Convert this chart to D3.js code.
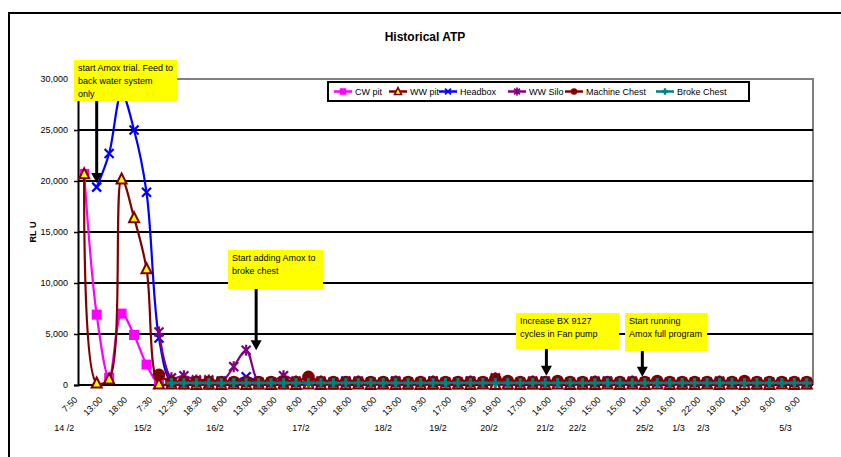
<!DOCTYPE html>
<html>
<head>
<meta charset="utf-8">
<script src="https://cdn.jsdelivr.net/npm/d3@7/dist/d3.min.js"></script>
<style>
  html, body { margin: 0; padding: 0; background: #fff; }
  svg { display: block; font-family: "Liberation Sans", Arial, sans-serif; }
</style>
</head>
<body>
<svg id="chart" width="841" height="457"></svg>
<script>
// Sample times: one reading per category, every second one carries a time label
const timeLabels = ["7:50", "13:00", "18:00", "7:30", "12:30", "18:30", "8:00", "13:00", "18:00", "8:00",
  "13:00", "18:00", "8:00", "13:00", "9:30", "17:00", "9:30", "19:00", "17:00", "14:00",
  "15:00", "15:00", "15:00", "11:00", "16:00", "22:00", "19:00", "14:00", "9:00", "9:00"];
const pointCount = 59;

// Day labels and the category (in reading units) they sit under
const dayLabels = ["14 /2", "15/2", "16/2", "17/2", "18/2", "19/2", "20/2", "21/2", "22/2", "25/2", "1/3", "2/3", "5/3"];
const dayAt = [-1.6, 4.7, 10.5, 17.4, 24, 28.4, 32.5, 37, 39.6, 45, 47.7, 49.7, 56.3];

// ATP readings (RLU) per sampling point
const cwPit = [20700, 6900, 700, 7000, 4900, 2000, 100, 100, 50, 100, 0, 50, 100, 0, 50, 100, 50, 0, 100, 50,
  0, 50, 100, 0, 50, 100, 0, 50, 0, 100, 50, 300, 100, 50, 0, 100, 50, 0, 100, 50,
  0, 50, 100, 0, 50, 0, 100, 50, 0, 50, 100, 0, 50, 100, 0, 50, 100, 0, 50];
const wwPit = [20700, 200, 600, 20200, 16400, 11400, 100, 100, 100, 50, 100, 50, 100, 50, 100, 50, 100, 50, 100, 50,
  100, 50, 100, 50, 100, 50, 100, 50, 100, 50, 100, 50, 100, 50, 100, 50, 100, 50, 100, 50,
  100, 50, 100, 50, 100, 50, 100, 50, 100, 50, 100, 50, 100, 50, 100, 50, 100, 50, 100];
const headbox = [null, 19400, 22700, 28600, 25000, 18900, 4600, 300, 300, 400, 300, 400, 300, 800, 300, 300, 400, 300, 300, 300,
  300, 400, 300, 300, 300, 400, 300, 300, 400, 300, 300, 400, 300, 500, 300, 300, 300, 400, 300, 300,
  300, 300, 400, 300, 300, 300, 300, 300, 300, 300, 300, 300, 300, 300, 300, 300, 300, 300, 300];
const wwSilo = [null, null, null, null, null, null, 5200, 700, 900, 500, 500, 300, 1800, 3400, 300, 300, 900, 400, 300, 400,
  300, 300, 400, 300, 300, 400, 300, 300, 400, 300, 300, 400, 300, 700, 300, 300, 400, 300, 300, 300,
  300, 400, 300, 300, 400, 300, 300, 300, 300, 300, 300, 400, 300, 300, 300, 300, 300, 300, 300];
const machineChest = [null, null, null, null, null, null, 1000, 300, 300, 300, 300, 300, 300, 300, 300, 300, 300, 300, 800, 300,
  300, 300, 300, 300, 300, 300, 300, 300, 300, 300, 300, 300, 300, 600, 400, 300, 300, 300, 400, 300,
  300, 300, 300, 300, 300, 300, 400, 300, 300, 300, 300, 300, 300, 400, 300, 300, 300, 300, 300];
const brokeChest = [null, null, null, null, null, null, null, 200, 200, 200, 200, 200, 200, 200, 200, 200, 200, 200, 200, 200,
  200, 200, 200, 200, 200, 200, 200, 200, 200, 200, 200, 200, 200, 200, 200, 200, 200, 200, 200, 200,
  200, 200, 200, 200, 200, 200, 200, 200, 200, 200, 200, 200, 200, 200, 200, 200, 200, 200, 200];

const seriesNames = ["CW pit", "WW pit", "Headbox", "WW Silo", "Machine Chest", "Broke Chest"];
const yTicks = [0, 5000, 10000, 15000, 20000, 25000, 30000];

const series = [
  { name: seriesNames[0], values: cwPit, color: "#ff00ff", marker: "square", fill: "#ff00ff" },
  { name: seriesNames[1], values: wwPit, color: "#800000", marker: "triangle", fill: "#ffff00" },
  { name: seriesNames[2], values: headbox, color: "#0000ff", marker: "x", fill: "none" },
  { name: seriesNames[3], values: wwSilo, color: "#800080", marker: "star", fill: "none" },
  { name: seriesNames[4], values: machineChest, color: "#800000", marker: "circle", fill: "#800000" },
  { name: seriesNames[5], values: brokeChest, color: "#008080", marker: "plus", fill: "none" }
];

// Callout notes: arrow tip at a category / value, box offsets in pixels
const notes = [
  { lines: ["start Amox trial. Feed to", "back water system", "only"], at: 1, value: 19800, box: [74, 60, 103, 41] },
  { lines: ["Start adding Amox to", "broke chest"], at: 13.8, value: 3400, box: [228, 250, 95, 39] },
  { lines: ["Increase BX 9127", "cycles in Fan pump"], at: 37.1, value: 900, box: [516, 313, 103, 36] },
  { lines: ["Start running", "Amox full program"], at: 44.8, value: 800, box: [625, 313, 82, 38] }
];

const svg = d3.select("#chart");
const plot = { left: 78, right: 813, top: 79, bottom: 385 };

const x = d3.scalePoint().domain(d3.range(pointCount)).range([plot.left, plot.right]).padding(0.5);
const y = d3.scaleLinear().domain([0, 30000]).range([plot.bottom, plot.top]);
const step = x.step();

// Outer chart frame (left and top edges fall inside the window)
svg.append("path")
  .attr("d", `M9,457 V13 H841`)
  .attr("fill", "none").attr("stroke", "#000").attr("stroke-width", 2);

// Title
svg.append("text").attr("x", 425).attr("y", 41).attr("text-anchor", "middle")
  .attr("font-size", 12).attr("font-weight", "bold").text("Historical ATP");

// Plot area border (grey top and right)
svg.append("path")
  .attr("d", `M${plot.left},${plot.top} H${plot.right} V${plot.bottom}`)
  .attr("fill", "none").attr("stroke", "#808080").attr("stroke-width", 2);

// Horizontal gridlines
svg.append("g").selectAll("line").data(yTicks.filter(t => t > 0 && t < 30000)).join("line")
  .attr("x1", plot.left).attr("x2", plot.right)
  .attr("y1", d => y(d)).attr("y2", d => y(d))
  .attr("stroke", "#000").attr("stroke-width", 2);

// Y axis
const yAxis = d3.axisLeft(y).tickValues(yTicks).tickSize(4).tickPadding(6)
  .tickFormat(d3.format(","));
const gy = svg.append("g").attr("transform", `translate(${plot.left},0)`).call(yAxis);
gy.select(".domain").attr("stroke", "#000").attr("stroke-width", 2);
gy.selectAll(".tick line").attr("stroke", "#000").attr("stroke-width", 1.5);
gy.selectAll(".tick text").attr("font-size", 9).attr("fill", "#000")
  .attr("font-family", "'Liberation Sans', Arial, sans-serif");

svg.append("text").attr("transform", `translate(36,232) rotate(-90)`)
  .attr("text-anchor", "middle").attr("font-size", 9).attr("font-weight", "bold").text("RL U");

// X axis line
svg.append("line").attr("x1", plot.left).attr("x2", plot.right)
  .attr("y1", plot.bottom).attr("y2", plot.bottom)
  .attr("stroke", "#000").attr("stroke-width", 2);

// Rotated time labels on every second reading
const xAxis = d3.axisBottom(x).tickValues(d3.range(0, pointCount, 2)).tickSize(0)
  .tickFormat(i => timeLabels[i / 2]);
const gx = svg.append("g").attr("transform", `translate(0,${plot.bottom})`).call(xAxis);
gx.select(".domain").remove();
gx.selectAll(".tick text")
  .attr("font-size", 9).attr("fill", "#000")
  .attr("font-family", "'Liberation Sans', Arial, sans-serif")
  .attr("text-anchor", "end")
  .attr("dy", "0.35em")
  .attr("transform", "translate(-11,11) rotate(-45)");

// Day labels
svg.append("g").selectAll("text").data(dayLabels).join("text")
  .attr("x", (d, i) => x(0) + dayAt[i] * step)
  .attr("y", 431)
  .attr("text-anchor", "middle").attr("font-size", 9).text(d => d);

// Marker shapes
function markerPath(type, s) {
  const h = s / 2;
  switch (type) {
    case "square": return `M${-h},${-h}H${h}V${h}H${-h}Z`;
    case "triangle": return `M0,${-h - 1}L${h + 0.5},${h}L${-h - 0.5},${h}Z`;
    case "x": return `M${-h},${-h}L${h},${h}M${h},${-h}L${-h},${h}`;
    case "star": return `M${-h},${-h}L${h},${h}M${h},${-h}L${-h},${h}M0,${-h - 1}V${h + 1}`;
    case "circle": return d3.symbol(d3.symbolCircle, Math.PI * h * h)();
    case "plus": return `M${-h},0H${h}M0,${-h}V${h}`;
  }
}
const markerSize = { square: 10, triangle: 9, x: 9, star: 9, circle: 12.5, plus: 10 };
const markerStroke = { square: 0, triangle: 2, x: 2.2, star: 2.2, circle: 0, plus: 3 };

const line = d3.line()
  .defined(d => d.v !== null)
  .x(d => x(d.i)).y(d => y(d.v))
  .curve(d3.curveCatmullRom.alpha(0.5));

const gSeries = svg.append("g");
series.forEach(s => {
  const pts = s.values.map((v, i) => ({ i, v }));
  const g = gSeries.append("g");
  g.append("path").datum(pts).attr("d", line)
    .attr("fill", "none").attr("stroke", s.color).attr("stroke-width", 2.2);
  g.selectAll("path.m").data(pts.filter(p => p.v !== null)).join("path")
    .attr("class", "m")
    .attr("transform", p => `translate(${x(p.i)},${y(p.v)})`)
    .attr("d", markerPath(s.marker, markerSize[s.marker]))
    .attr("fill", s.fill)
    .attr("stroke", s.color)
    .attr("stroke-width", markerStroke[s.marker]);
});

// Legend
const legend = svg.append("g");
legend.append("rect").attr("x", 328).attr("y", 82).attr("width", 421).attr("height", 19)
  .attr("fill", "#fff").attr("stroke", "#000").attr("stroke-width", 2);
const legendX = [334, 389, 439, 508, 565, 656];
series.forEach((s, i) => {
  const lx = legendX[i], ly = 91.5;
  legend.append("line").attr("x1", lx).attr("x2", lx + 18).attr("y1", ly).attr("y2", ly)
    .attr("stroke", s.color).attr("stroke-width", 2.5);
  legend.append("path").attr("transform", `translate(${lx + 9},${ly})`)
    .attr("d", markerPath(s.marker, Math.min(markerSize[s.marker], 10) * 0.65))
    .attr("fill", s.fill).attr("stroke", s.color)
    .attr("stroke-width", markerStroke[s.marker] * 0.8);
  legend.append("text").attr("x", lx + 21).attr("y", ly + 3.2)
    .attr("font-size", 9).text(s.name);
});

// Callouts with arrows
const gNotes = svg.append("g");
notes.forEach(n => {
  const [bx, by, bw, bh] = n.box;
  const ax = x(0) + n.at * step;
  const tipY = y(n.value);
  gNotes.append("rect").attr("x", bx).attr("y", by).attr("width", bw).attr("height", bh)
    .attr("fill", "#ffff00");
  n.lines.forEach((t, k) => {
    gNotes.append("text").attr("x", bx + 4).attr("y", by + 11 + k * 13)
      .attr("font-size", 9).text(t);
  });
  gNotes.append("line").attr("x1", ax).attr("x2", ax).attr("y1", by + bh).attr("y2", tipY - 8)
    .attr("stroke", "#000").attr("stroke-width", 3);
  gNotes.append("path")
    .attr("d", `M${ax - 5.5},${tipY - 10}L${ax + 5.5},${tipY - 10}L${ax},${tipY}Z`)
    .attr("fill", "#000");
});
</script>
</body>
</html>
